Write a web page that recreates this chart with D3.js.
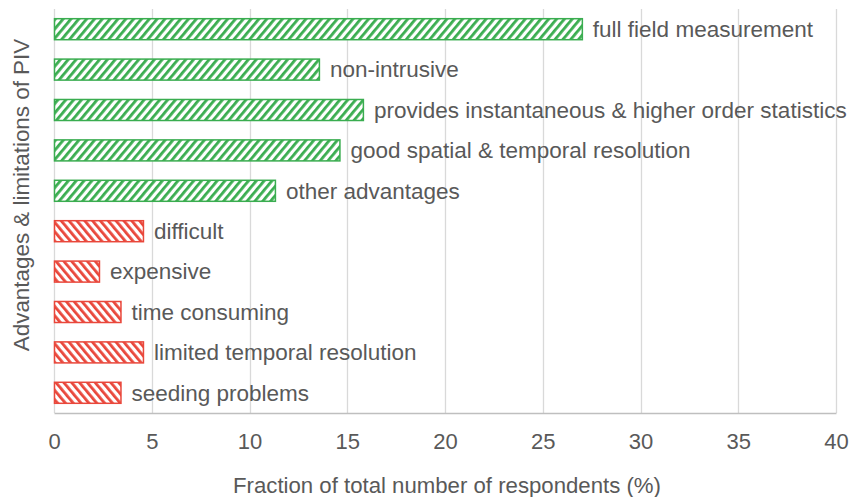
<!DOCTYPE html>
<html>
<head>
<meta charset="utf-8">
<script src="https://cdn.jsdelivr.net/npm/d3@7"></script>
<style>
  body { margin: 0; background: #fff; }
  text { font-family: "Liberation Sans", Arial, sans-serif; fill: #595959; }
</style>
</head>
<body>
<div id="chart"></div>
<script>
// datos del grafico
const categorias = [
  "full field measurement",
  "non-intrusive",
  "provides instantaneous & higher order statistics",
  "good spatial & temporal resolution",
  "other advantages",
  "difficult",
  "expensive",
  "time consuming",
  "limited temporal resolution",
  "seeding problems"
];
const valores = [27.0, 13.55, 15.8, 14.6, 11.3, 4.55, 2.3, 3.4, 4.55, 3.4];
const tipos = ["adv", "adv", "adv", "adv", "adv", "lim", "lim", "lim", "lim", "lim"];
const ticksX = [0, 5, 10, 15, 20, 25, 30, 35, 40];

const WIDTH = 853;
const HEIGHT = 497;
const MARGIN = { top: 9, bottom: 84, left: 54, right: 17 };
const WIDTH_VIS = WIDTH - MARGIN.left - MARGIN.right;
const HEIGHT_VIS = HEIGHT - MARGIN.top - MARGIN.bottom;

const colores = { adv: "#3aad50", lim: "#e9473b" };

const svg = d3.select("#chart")
  .append("svg")
  .attr("width", WIDTH)
  .attr("height", HEIGHT);

// patrones rayados
const defs = svg.append("defs");
function patron(id, color, angulo) {
  const p = defs.append("pattern")
    .attr("id", id)
    .attr("patternUnits", "userSpaceOnUse")
    .attr("width", 6)
    .attr("height", 6)
    .attr("patternTransform", `rotate(${angulo})`);
  p.append("rect").attr("width", 6).attr("height", 6).attr("fill", "#fff");
  p.append("rect").attr("width", 2.8).attr("height", 6).attr("fill", color);
}
patron("rayas-adv", colores.adv, 40);
patron("rayas-lim", colores.lim, -40);

const xScale = d3.scaleLinear().domain([0, 40]).range([0, WIDTH_VIS]);
const yScale = d3.scaleBand()
  .domain(categorias)
  .range([0, HEIGHT_VIS])
  .paddingInner(0.48)
  .paddingOuter(0.24);

const g = svg.append("g").attr("transform", `translate(${MARGIN.left}, ${MARGIN.top})`);

// grilla
g.selectAll(".grid")
  .data(ticksX)
  .join("line")
  .attr("class", "grid")
  .attr("x1", d => Math.round(xScale(d)) + 0.5)
  .attr("x2", d => Math.round(xScale(d)) + 0.5)
  .attr("y1", 0)
  .attr("y2", HEIGHT_VIS)
  .attr("stroke", "#d9d9d9")
  .attr("stroke-width", 1.3);

// eje x
const ejeX = d3.axisBottom(xScale).tickValues(ticksX).tickSize(0).tickPadding(20);
const contEje = g.append("g")
  .attr("transform", `translate(0, ${HEIGHT_VIS})`)
  .call(ejeX);
contEje.select(".domain").attr("stroke", "#bfbfbf").attr("stroke-width", 1.5);
contEje.selectAll("text").attr("font-size", 22).attr("fill", "#595959")
  .attr("font-family", "Liberation Sans, Arial, sans-serif");

// barras
const barras = g.selectAll(".barra")
  .data(categorias)
  .join("g")
  .attr("class", "barra");

barras.append("rect")
  .attr("x", 0.5)
  .attr("y", d => yScale(d))
  .attr("width", (d, i) => xScale(valores[i]))
  .attr("height", yScale.bandwidth())
  .attr("fill", (d, i) => `url(#rayas-${tipos[i]})`)
  .attr("stroke", (d, i) => colores[tipos[i]])
  .attr("stroke-width", 1.5);

barras.append("text")
  .attr("x", (d, i) => xScale(valores[i]) + 11)
  .attr("y", d => yScale(d) + yScale.bandwidth() / 2)
  .attr("dy", "0.35em")
  .attr("font-size", 22.5)
  .text(d => d);

// titulos
svg.append("text")
  .attr("transform", `translate(447, 493)`)
  .attr("text-anchor", "middle")
  .attr("font-size", 22.2)
  .text("Fraction of total number of respondents (%)");

svg.append("text")
  .attr("transform", `translate(29, 195) rotate(-90)`)
  .attr("text-anchor", "middle")
  .attr("font-size", 22.4)
  .text("Advantages & limitations of PIV");
</script>
</body>
</html>
